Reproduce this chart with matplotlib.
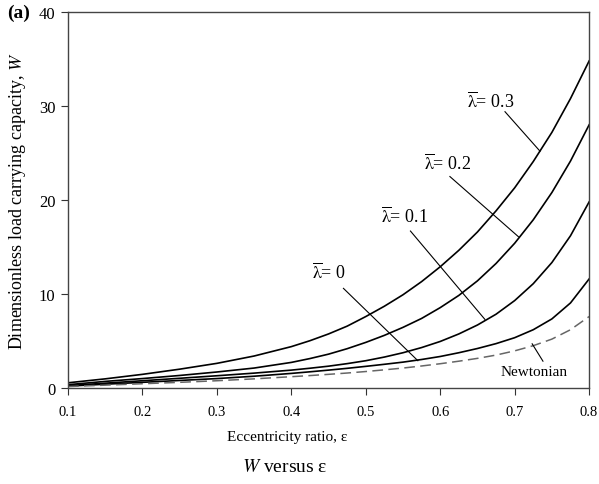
import matplotlib
matplotlib.use('Agg')
import matplotlib.pyplot as plt
import numpy as np

plt.rcParams['font.family'] = 'Liberation Serif'
plt.rcParams['mathtext.fontset'] = 'stix'
plt.rcParams['font.size'] = 10

# eccentricity ratio and load capacity; finer steps where curves bend
eps = [0.10, 0.15, 0.20, 0.25, 0.30, 0.35, 0.40,
       0.425, 0.45, 0.475, 0.50, 0.525, 0.55, 0.575, 0.60,
       0.625, 0.65, 0.675, 0.70, 0.725, 0.75, 0.775, 0.80]
w_lam03 = [0.55, 0.97, 1.45, 2.0, 2.62, 3.4, 4.4,
           5.03, 5.75, 6.58, 7.6, 8.7, 9.92, 11.32, 12.9,
           14.65, 16.6, 18.85, 21.3, 24.1, 27.2, 30.8, 34.8]
w_lam02 = [0.35, 0.7, 1.0, 1.33, 1.7, 2.12, 2.72,
           3.13, 3.6, 4.18, 4.85, 5.6, 6.45, 7.4, 8.55,
           9.85, 11.4, 13.25, 15.4, 17.9, 20.8, 24.15, 28.0]
w_lam01 = [0.25, 0.51, 0.77, 1.03, 1.3, 1.58, 1.9,
           2.1, 2.32, 2.59, 2.9, 3.29, 3.75, 4.3, 4.95,
           5.75, 6.7, 7.85, 9.3, 11.1, 13.35, 16.2, 19.8]
w_lam0 = [0.2, 0.4, 0.6, 0.8, 1.0, 1.25, 1.55,
          1.72, 1.9, 2.09, 2.3, 2.52, 2.75, 3.03, 3.35,
          3.75, 4.2, 4.72, 5.35, 6.2, 7.35, 9.05, 11.6]
w_newt = [0.15, 0.3, 0.45, 0.6, 0.77, 0.97, 1.2,
          1.32, 1.45, 1.59, 1.75, 1.93, 2.12, 2.34, 2.58,
          2.85, 3.15, 3.5, 3.95, 4.5, 5.2, 6.2, 7.6]

xticks = [0.1, 0.2, 0.3, 0.4, 0.5, 0.6, 0.7, 0.8]
yticks = [0, 10, 20, 30, 40]

LAM = r'$\overline{\mathrm{\lambda}}$'
# (label text, text position, leader start, leader end) in data units
annots = [
    (LAM + '= 0.3', (0.668, 30.6), (0.687, 29.4), (0.734, 25.2)),
    (LAM + '= 0.2', (0.610, 24.0), (0.613, 22.5), (0.705, 16.1)),
    (LAM + '= 0.1', (0.552, 18.3), (0.560, 16.7), (0.660, 7.3)),
    (LAM + '= 0', (0.451, 12.4), (0.470, 10.6), (0.570, 2.9)),
    ('Newtonian', (0.726, 1.7), (0.738, 2.85), (0.7235, 4.7)),
]

fig = plt.figure(figsize=(5.99, 4.85), dpi=100)
ax = fig.add_axes([0.1135, 0.198, 0.870, 0.775])

for w in [w_lam03, w_lam02, w_lam01, w_lam0]:
    ax.plot(eps, w, color='black', lw=1.2)
ax.plot(eps, w_newt, color='#666666', lw=1.1, dashes=(7, 3.5))

for text, tpos, p0, p1 in annots:
    fs = 11 if text == 'Newtonian' else 13
    ax.text(tpos[0], tpos[1], text, fontsize=fs, ha='center', va='center')
    ax.plot([p0[0], p1[0]], [p0[1], p1[1]], color='black', lw=0.8)

ax.set_xlim(0.1, 0.8)
ax.set_ylim(0, 40)
ax.set_xticks(xticks)
ax.set_xticklabels([f'{t:.1f}' for t in xticks])
ax.set_yticks(yticks)
ax.tick_params(direction='out', length=5, width=0.8, color='#333333', pad=4)
ax.tick_params(axis='x', labelsize=10.5, pad=7)
ax.tick_params(axis='y', labelsize=12)
for s in ax.spines.values():
    s.set_color('#444444')
    s.set_linewidth(1.0)

ax.set_ylabel('Dimensionless load carrying capacity, $W$', fontsize=13, labelpad=8)
fig.text(287 / 599, 1 - 438 / 485, 'Eccentricity ratio, ε', fontsize=11,
         ha='center', va='center')
fig.text(285 / 599, 1 - 468 / 485, '$W$ versus ε', fontsize=14,
         ha='center', va='center')
fig.text(7 / 599, 1 - 13 / 485, '(a)', fontsize=14, fontweight='bold',
         ha='left', va='center')

fig.savefig('out.png', dpi=100)
